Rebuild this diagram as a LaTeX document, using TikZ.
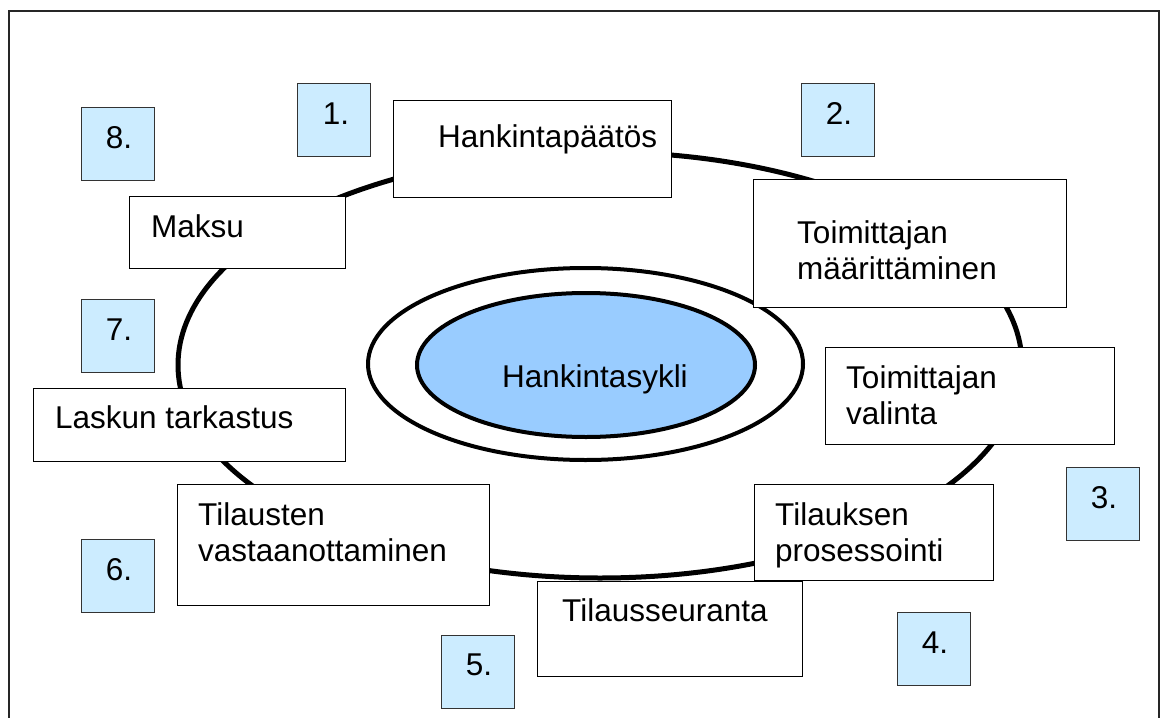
\documentclass[tikz,border=0pt]{standalone}
\usepackage{fontspec}
\setmainfont{Liberation Sans}
\usetikzlibrary{shapes.geometric}
\definecolor{corefill}{HTML}{99CCFF}
\definecolor{numfill}{HTML}{CCECFF}
\definecolor{numedge}{HTML}{333333}
\newcommand\twolines[2]{\begin{tabular}[t]{@{}l@{}}#1\\#2\end{tabular}}
\tikzset{
  txt/.style={font=\fontsize{31.5}{36}\selectfont, inner sep=0pt, anchor=base west},
  numtxt/.style={font=\fontsize{31.5}{36}\selectfont, inner sep=0pt, anchor=base},
  stagebox/.style={draw=black, fill=white, line width=1.3pt, rectangle, inner sep=0pt, anchor=north west},
  numbox/.style={draw=numedge, fill=numfill, line width=1.3pt, rectangle, inner sep=0pt,
    anchor=north west, minimum width=73pt, minimum height=73pt},
  ring/.style={ellipse, draw=black, inner sep=0pt}
}
\begin{document}
\begin{tikzpicture}[x=1pt,y=-1pt]
\useasboundingbox (0,0) rectangle (1161,717);
\clip (0,0) rectangle (1161,717);
\fill[white] (0,0) rectangle (1161,717);

% outer frame, running past the lower edge
\draw[line width=1.4pt, black!85] (9,11) rectangle (1159,745);

% the cycle path behind the stage boxes
\node[ring, line width=5pt, minimum width=844pt, minimum height=426pt] (cycle) at (600,365) {};

% centre: ring and core
\node[ring, fill=white, line width=4pt, minimum width=435pt, minimum height=192pt] (hub) at (585.5,364) {};
\node[ring, fill=corefill, line width=4pt, minimum width=338pt, minimum height=144pt] (core) at (586,365) {};
\node[txt] (coretxt) at (502,387) {Hankintasykli};

% stage boxes
\node[stagebox, minimum width=278pt, minimum height=97pt] (s1) at (393,100) {};
\node[txt] (t1) at (438,147) {Hankintapäätös};

\node[stagebox, minimum width=313pt, minimum height=128pt] (s2) at (753,179) {};
\node[txt] (t2) at (797,243) {\twolines{Toimittajan}{määrittäminen}};

\node[stagebox, minimum width=289pt, minimum height=97pt] (s3) at (825,347) {};
\node[txt] (t3) at (846,388) {\twolines{Toimittajan}{valinta}};

\node[stagebox, minimum width=239pt, minimum height=96pt] (s4) at (754,484) {};
\node[txt] (t4) at (775,525) {\twolines{Tilauksen}{prosessointi}};

\node[stagebox, minimum width=265pt, minimum height=95pt] (s5) at (537,581) {};
\node[txt] (t5) at (562,621) {Tilausseuranta};

\node[stagebox, minimum width=312pt, minimum height=121pt] (s6) at (177,484) {};
\node[txt] (t6) at (198,525) {\twolines{Tilausten}{vastaanottaminen}};

\node[stagebox, minimum width=312pt, minimum height=73pt] (s7) at (33,388) {};
\node[txt] (t7) at (55,428) {Laskun tarkastus};

\node[stagebox, minimum width=216pt, minimum height=72pt] (s8) at (129,196) {};
\node[txt] (t8) at (151,237) {Maksu};

% step numbers
\node[numbox] (n1) at (297,83) {};
\node[numtxt] at (336,124) {1.};
\node[numbox] (n2) at (801,83) {};
\node[numtxt] at (839,124) {2.};
\node[numbox] (n3) at (1066,467) {};
\node[numtxt] at (1104,508) {3.};
\node[numbox] (n4) at (897,612) {};
\node[numtxt] at (935,653) {4.};
\node[numbox] (n5) at (441,635) {};
\node[numtxt] at (479,675) {5.};
\node[numbox] (n6) at (81,539) {};
\node[numtxt] at (119,580) {6.};
\node[numbox] (n7) at (81,299) {};
\node[numtxt] at (119,340) {7.};
\node[numbox] (n8) at (81,107) {};
\node[numtxt] at (119,148) {8.};
\end{tikzpicture}
\end{document}
